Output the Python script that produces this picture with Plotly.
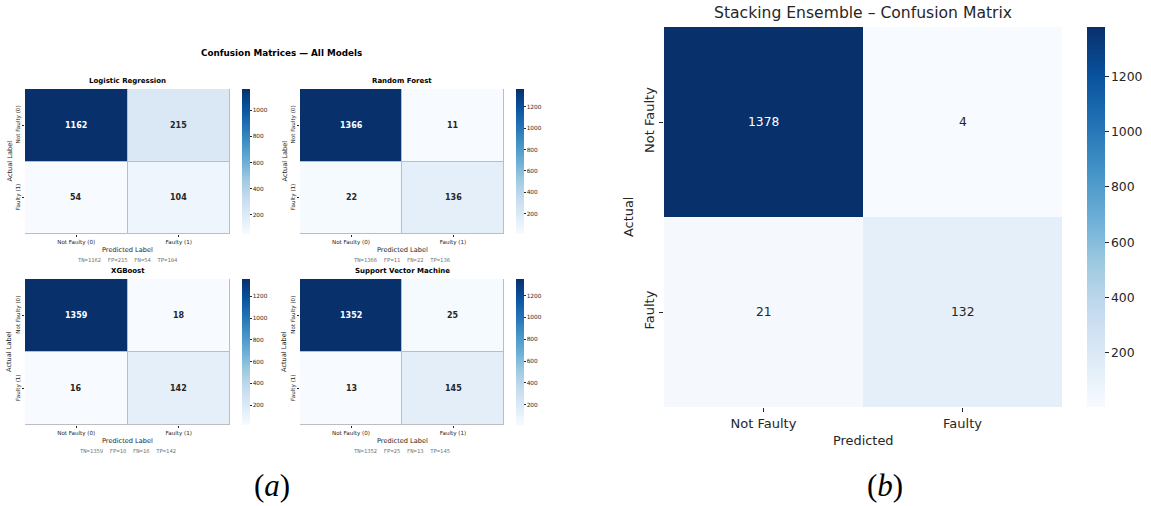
import plotly.graph_objects as go

# Confusion-matrix counts, rows = actual (Not Faulty, Faulty), cols = predicted
lr_cm = [[1162, 215], [54, 104]]
rf_cm = [[1366, 11], [22, 136]]
xgb_cm = [[1359, 18], [16, 142]]
svm_cm = [[1352, 25], [13, 145]]
stack_cm = [[1378, 4], [21, 132]]

model_names = ["Logistic Regression", "Random Forest", "XGBoost", "Support Vector Machine"]
small_labels = ["Not Faulty (0)", "Faulty (1)"]
big_labels = ["Not Faulty", "Faulty"]
small_ticks = [[200, 400, 600, 800, 1000],
               [200, 400, 600, 800, 1000, 1200],
               [200, 400, 600, 800, 1000, 1200],
               [200, 400, 600, 800, 1000, 1200]]
big_ticks = [200, 400, 600, 800, 1000, 1200]

W, H = 1151, 506
DARK = "#262626"
FONT = "DejaVu Sans"

BLUES = [[0.0, "rgb(247,251,255)"], [0.125, "rgb(222,235,247)"], [0.25, "rgb(198,219,239)"],
         [0.375, "rgb(158,202,225)"], [0.5, "rgb(107,174,214)"], [0.625, "rgb(66,146,198)"],
         [0.75, "rgb(33,113,181)"], [0.875, "rgb(8,81,156)"], [1.0, "rgb(8,48,107)"]]


def px_x(v):
    return v / W


def px_y(v):
    return 1 - v / H


def label(x, y, text, size, color=DARK, family=FONT, angle=0):
    """Text placed in page pixels, centred on (x, y)."""
    return dict(x=px_x(x), y=px_y(y), xref="paper", yref="paper",
                xanchor="center", yanchor="middle", text=text, showarrow=False,
                textangle=angle, font=dict(family=family, size=size, color=color))


fig = go.Figure()
annotations = []

# pixel boxes of the four small heatmaps: (left, right, top, bottom)
small_boxes = [(25, 230, 89, 234), (300, 504, 89, 234),
               (25, 230, 279, 425), (300, 504, 279, 425)]
small_cms = [lr_cm, rf_cm, xgb_cm, svm_cm]

layout_axes = {}
for i, (cm, name, box, ticks) in enumerate(zip(small_cms, model_names, small_boxes, small_ticks)):
    n = i + 1
    xa = "x" if n == 1 else f"x{n}"
    ya = "y" if n == 1 else f"y{n}"
    l, r, t, b = box
    flat = [v for row in cm for v in row]
    zmin, zmax = min(flat), max(flat)
    fig.add_trace(go.Heatmap(
        z=cm, x=[0, 1], y=[0, 1], xaxis=xa, yaxis=ya,
        colorscale=BLUES, zmin=zmin, zmax=zmax, xgap=1, ygap=1,
        hoverinfo="skip",
        colorbar=dict(
            x=px_x(r + 12), xanchor="left", y=px_y((t + b) / 2), yanchor="middle",
            len=(b - t), lenmode="pixels", thickness=8, outlinewidth=0,
            tickvals=ticks, ticks="outside", ticklen=2, tickcolor=DARK,
            tickfont=dict(family=FONT, size=5.8, color=DARK), xpad=0, ypad=0,
        ),
    ))
    layout_axes["xaxis" if n == 1 else f"xaxis{n}"] = dict(
        domain=[px_x(l), px_x(r)], anchor=ya, range=[-0.5, 1.5],
        tickvals=[0, 1], ticktext=small_labels, ticks="outside", ticklen=2,
        tickcolor=DARK, tickfont=dict(family=FONT, size=5.6, color=DARK),
        showgrid=False, zeroline=False, fixedrange=True,
    )
    layout_axes["yaxis" if n == 1 else f"yaxis{n}"] = dict(
        domain=[px_y(b), px_y(t)], anchor=xa, range=[1.5, -0.5],
        tickvals=[0, 1], ticktext=small_labels, ticks="outside", ticklen=2,
        tickcolor=DARK, tickangle=-90, tickfont=dict(family=FONT, size=5.6, color=DARK),
        showgrid=False, zeroline=False, fixedrange=True,
    )
    # cell counts
    for ri in range(2):
        for ci in range(2):
            v = cm[ri][ci]
            col = "white" if v > (zmin + zmax) / 2 else DARK
            annotations.append(dict(
                x=ci, y=ri, xref=xa, yref=ya, text=f"<b>{v}</b>", showarrow=False,
                font=dict(family=FONT, size=8, color=col),
            ))
    cx = (l + r) / 2
    annotations.append(label(cx, t - 8, f"<b>{name}</b>", 7, color="black"))
    annotations.append(label(cx, b + 16, "Predicted Label", 6.6))
    annotations.append(label(l - 16, (t + b) / 2, "Actual Label", 6.6, angle=-90))
    annotations.append(label(cx, b + 26,
                             f"TN={cm[0][0]}  FP={cm[0][1]}  FN={cm[1][0]}  TP={cm[1][1]}",
                             5.5, color="#777777", family="DejaVu Sans Mono"))

annotations.append(label(281, 53, "<b>Confusion Matrices — All Models</b>", 8.8, color="black"))

# Stacking ensemble heatmap
l, r, t, b = 664, 1062, 27, 407
flat = [v for row in stack_cm for v in row]
zmin, zmax = min(flat), max(flat)
fig.add_trace(go.Heatmap(
    z=stack_cm, x=[0, 1], y=[0, 1], xaxis="x5", yaxis="y5",
    colorscale=BLUES, zmin=zmin, zmax=zmax, hoverinfo="skip",
    colorbar=dict(
        x=px_x(1087), xanchor="left", y=px_y((t + b) / 2), yanchor="middle",
        len=(b - t), lenmode="pixels", thickness=18, outlinewidth=0,
        tickvals=big_ticks, ticks="outside", ticklen=4, tickcolor=DARK,
        tickfont=dict(family=FONT, size=12.4, color=DARK), xpad=0, ypad=0,
    ),
))
layout_axes["xaxis5"] = dict(
    domain=[px_x(l), px_x(r)], anchor="y5", range=[-0.5, 1.5],
    tickvals=[0, 1], ticktext=big_labels, ticks="outside", ticklen=4,
    tickcolor=DARK, tickfont=dict(family=FONT, size=13, color=DARK),
    showgrid=False, zeroline=False, fixedrange=True,
)
layout_axes["yaxis5"] = dict(
    domain=[px_y(b), px_y(t)], anchor="x5", range=[1.5, -0.5],
    tickvals=[0, 1], ticktext=big_labels, ticks="outside", ticklen=4,
    tickcolor=DARK, tickangle=-90, tickfont=dict(family=FONT, size=13, color=DARK),
    showgrid=False, zeroline=False, fixedrange=True,
)
for ri in range(2):
    for ci in range(2):
        v = stack_cm[ri][ci]
        col = "white" if v > (zmin + zmax) / 2 else DARK
        annotations.append(dict(
            x=ci, y=ri, xref="x5", yref="y5", text=str(v), showarrow=False,
            font=dict(family=FONT, size=12.3, color=col),
        ))
annotations.append(label((l + r) / 2, 13, "Stacking Ensemble – Confusion Matrix", 15.6))
annotations.append(label((l + r) / 2, 440, "Predicted", 12.9))
annotations.append(label(629, (t + b) / 2, "Actual", 12.9, angle=-90))

# panel captions
annotations.append(label(272, 485, "(<i>a</i>)", 31, color="black", family="Liberation Serif"))
annotations.append(label(885, 485, "(<i>b</i>)", 31, color="black", family="Liberation Serif"))

fig.update_layout(
    width=W, height=H, margin=dict(l=0, r=0, t=0, b=0),
    paper_bgcolor="white", plot_bgcolor="#bdbdbd",
    showlegend=False, annotations=annotations, **layout_axes,
)

fig.write_html("out.html", config={"displayModeBar": False})
